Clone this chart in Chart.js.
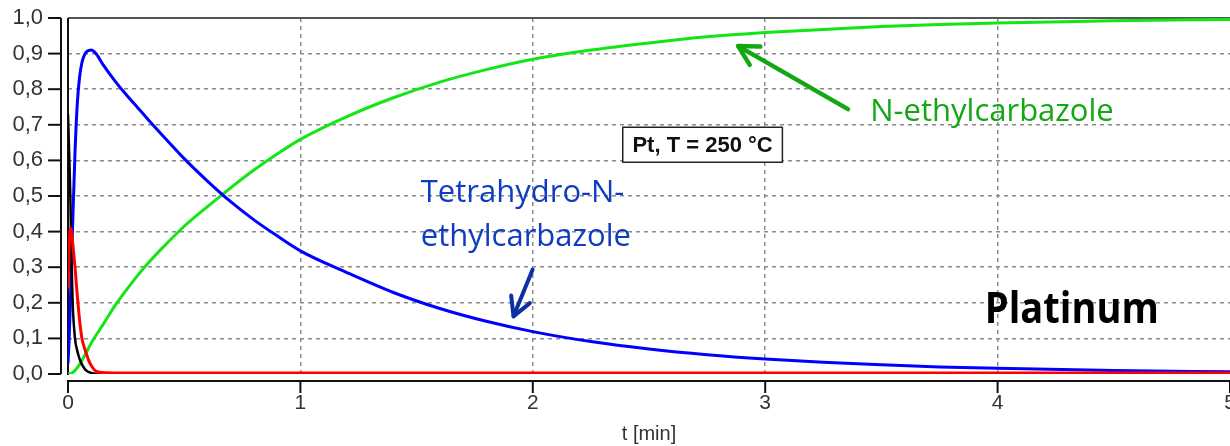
<!DOCTYPE html>
<html>
<head>
<meta charset="utf-8">
<script src="https://cdn.jsdelivr.net/npm/chart.js@4"></script>
<style>
  html, body { margin: 0; padding: 0; background: #fff; overflow: hidden; }
  #wrap { width: 1230px; height: 446px; overflow: hidden; }
</style>
</head>
<body>
<div id="wrap"><canvas id="kinetics" width="1250" height="446"></canvas></div>
<script>
// time grid [min], denser near t = 0 where the intermediates spike
const timeMin = [0, 0.005, 0.01, 0.015, 0.02, 0.03, 0.04, 0.05, 0.06, 0.07,
                 0.08, 0.09, 0.1, 0.12, 0.15, 0.2, 0.25, 0.3, 0.35, 0.4,
                 0.5, 0.6, 0.7, 0.8, 0.9, 1.0, 1.2, 1.4, 1.6, 1.8,
                 2.0, 2.25, 2.5, 2.75, 3.0, 3.25, 3.5, 3.75, 4.0, 4.5, 5.0];

// mole fractions per species
const dodecahydro = [0.73, 0.62, 0.5, 0.32, 0.2, 0.1, 0.065, 0.042, 0.027, 0.016,
                     0.009, 0.005, 0.003, 0.001, 0, 0, 0, 0, 0, 0,
                     0, 0, 0, 0, 0, 0, 0, 0, 0, 0,
                     0, 0, 0, 0, 0, 0, 0, 0, 0, 0, 0];
const octahydro = [0.24, 0.36, 0.41, 0.4, 0.37, 0.3, 0.22, 0.15, 0.1, 0.075,
                   0.055, 0.037, 0.024, 0.008, 0.004, 0.003, 0.003, 0.003, 0.003, 0.003,
                   0.003, 0.003, 0.003, 0.003, 0.003, 0.003, 0.003, 0.003, 0.003, 0.003,
                   0.003, 0.003, 0.003, 0.003, 0.003, 0.003, 0.003, 0.003, 0.003, 0.003, 0.003];
const tetrahydro = [0.03, 0.1, 0.2, 0.31, 0.42, 0.62, 0.76, 0.835, 0.875, 0.895,
                    0.905, 0.909, 0.91, 0.9, 0.87, 0.825, 0.785, 0.748, 0.711, 0.675,
                    0.605, 0.542, 0.484, 0.433, 0.388, 0.346, 0.285, 0.229, 0.184, 0.148,
                    0.119, 0.091, 0.07, 0.054, 0.042, 0.033, 0.026, 0.02, 0.016, 0.01, 0.006];
const ethylcarbazole = [0, 0.0005, 0.001, 0.002, 0.004, 0.01, 0.018, 0.027, 0.038, 0.05,
                        0.062, 0.075, 0.087, 0.108, 0.138, 0.19, 0.235, 0.277, 0.315, 0.35,
                        0.415, 0.47, 0.523, 0.573, 0.618, 0.659, 0.723, 0.776, 0.82, 0.855,
                        0.884, 0.91, 0.93, 0.947, 0.959, 0.968, 0.976, 0.982, 0.986, 0.992, 0.996];

const xTickLabels = ['0', '1', '2', '3', '4', '5'];
const yTickLabels = ['0,0', '0,1', '0,2', '0,3', '0,4', '0,5', '0,6', '0,7', '0,8', '0,9', '1,0'];

function points(values) {
    return timeMin.map((t, i) => ({ x: t, y: values[i] }));
}

function line(ctx, x0, y0, x1, y1) {
    ctx.beginPath();
    ctx.moveTo(x0, y0);
    ctx.lineTo(x1, y1);
    ctx.stroke();
}

// open arrow from tail to tip, head wings given in px / radians
function arrow(ctx, x0, y0, x1, y1, wing, spread) {
    const ang = Math.atan2(y0 - y1, x0 - x1);
    line(ctx, x0, y0, x1, y1);
    ctx.beginPath();
    ctx.moveTo(x1 + wing * Math.cos(ang - spread), y1 + wing * Math.sin(ang - spread));
    ctx.lineTo(x1, y1);
    ctx.lineTo(x1 + wing * Math.cos(ang + spread), y1 + wing * Math.sin(ang + spread));
    ctx.stroke();
}

// plot frame plus the detached axes with outward ticks
const axisFrame = {
    id: 'axisFrame',
    beforeDatasetsDraw(chart) {
        const { ctx, chartArea: a, scales: { x, y } } = chart;
        ctx.save();
        ctx.lineWidth = 2;
        ctx.strokeStyle = '#555';
        line(ctx, a.left, a.top, a.right, a.top);
        ctx.strokeStyle = '#111';
        line(ctx, a.left, a.top, a.left, y.getPixelForValue(0) + 1);

        const yx = a.left - 7;
        line(ctx, yx, y.getPixelForValue(1), yx, y.getPixelForValue(0));
        y.ticks.forEach(t => {
            const py = y.getPixelForValue(t.value);
            line(ctx, yx - 13, py, yx, py);
        });

        const xy = a.bottom + 7;
        line(ctx, x.getPixelForValue(0) - 1, xy, x.getPixelForValue(5), xy);
        x.ticks.forEach(t => {
            const px = x.getPixelForValue(t.value);
            line(ctx, px, xy, px, xy + 12);
        });
        ctx.restore();
    }
};

// labels, arrows and the condition box, placed in data units
const annotations = {
    id: 'annotations',
    afterDatasetsDraw(chart) {
        const { ctx, scales: { x, y } } = chart;
        const px = t => x.getPixelForValue(t);
        const py = v => y.getPixelForValue(v);
        ctx.save();
        ctx.lineCap = 'round';
        ctx.lineJoin = 'round';

        // N-ethylcarbazole
        ctx.strokeStyle = '#13a813';
        ctx.lineWidth = 4.5;
        arrow(ctx, px(3.356), py(0.744), px(2.884), py(0.921), 22, 0.5);
        ctx.fillStyle = '#13a813';
        ctx.font = '31px "Open Sans"';
        ctx.textBaseline = 'alphabetic';
        ctx.textAlign = 'left';
        ctx.fillText('N-ethylcarbazole', px(3.452), py(0.711), 252);

        // Tetrahydro-N-ethylcarbazole
        ctx.strokeStyle = '#0c2fa6';
        ctx.lineWidth = 4;
        arrow(ctx, px(1.999), py(0.293), px(1.917), py(0.162), 21, 0.5);
        ctx.fillStyle = '#0f3cc0';
        ctx.fillText('Tetrahydro-N-', px(1.518), py(0.484), 210);
        ctx.fillText('ethylcarbazole', px(1.518), py(0.36), 218);

        // catalyst
        ctx.fillStyle = '#000';
        ctx.font = 'bold 43px "Open Sans"';
        ctx.fillText('Platinum', px(3.945), py(0.143), 174);

        // condition box
        const bx0 = px(2.387), bx1 = px(3.074), by0 = py(0.693), by1 = py(0.595);
        ctx.fillStyle = '#fff';
        ctx.fillRect(bx0, by0, bx1 - bx0, by1 - by0);
        ctx.strokeStyle = '#222';
        ctx.lineWidth = 1.5;
        ctx.strokeRect(bx0, by0, bx1 - bx0, by1 - by0);
        ctx.fillStyle = '#111';
        ctx.font = 'bold 22px "Liberation Sans"';
        ctx.textAlign = 'center';
        ctx.textBaseline = 'middle';
        ctx.fillText('Pt, T = 250 °C', (bx0 + bx1) / 2, (by0 + by1) / 2 + 1);
        ctx.restore();
    }
};

const gridColor = edge => ctx => {
    const v = ctx.tick ? ctx.tick.value : null;
    return (v === null || Math.abs(v) < 1e-9 || Math.abs(v - edge) < 1e-9) ? 'rgba(0,0,0,0)' : '#8a8a8a';
};

const series = [
    { data: octahydro, color: '#ff0000', width: 3 },
    { data: dodecahydro, color: '#000000', width: 2.5 },
    { data: tetrahydro, color: '#0000ff', width: 3 },
    { data: ethylcarbazole, color: '#14e614', width: 3 }
];

new Chart(document.getElementById('kinetics'), {
    type: 'line',
    data: {
        datasets: series.map(s => ({
            data: points(s.data),
            borderColor: s.color,
            borderWidth: s.width,
            pointRadius: 0,
            cubicInterpolationMode: 'monotone',
            fill: false,
            borderJoinStyle: 'round'
        }))
    },
    options: {
        responsive: false,
        animation: false,
        devicePixelRatio: 1,
        layout: { padding: { top: 18, right: 20, left: 0, bottom: 0 } },
        plugins: { legend: { display: false }, tooltip: { enabled: false } },
        scales: {
            x: {
                type: 'linear',
                min: 0,
                max: 5,
                afterFit: s => { s.height = 72; s.paddingLeft = 0; s.paddingRight = 0; },
                ticks: {
                    stepSize: 1,
                    autoSkip: false,
                    maxRotation: 0,
                    padding: 17,
                    color: '#333',
                    font: { family: '"Liberation Sans", Arial', size: 21 },
                    callback: v => xTickLabels[Math.round(v)]
                },
                grid: { drawTicks: false, lineWidth: 1.5, color: gridColor(5) },
                border: { display: false, dash: [4, 4] },
                title: {
                    display: true,
                    text: 't [min]',
                    color: '#333',
                    font: { family: '"Liberation Sans", Arial', size: 20 },
                    padding: { top: 0, bottom: 0 }
                }
            },
            y: {
                min: 0,
                max: 1,
                afterFit: s => { s.width = 68; s.paddingTop = 0; s.paddingBottom = 0; },
                ticks: {
                    stepSize: 0.1,
                    padding: 25,
                    color: '#333',
                    font: { family: '"Liberation Sans", Arial', size: 22 },
                    callback: v => yTickLabels[Math.round(v * 10)]
                },
                grid: { drawTicks: false, lineWidth: 1.5, color: gridColor(1) },
                border: { display: false, dash: [4, 4] }
            }
        }
    },
    plugins: [axisFrame, annotations]
});
</script>
</body>
</html>
